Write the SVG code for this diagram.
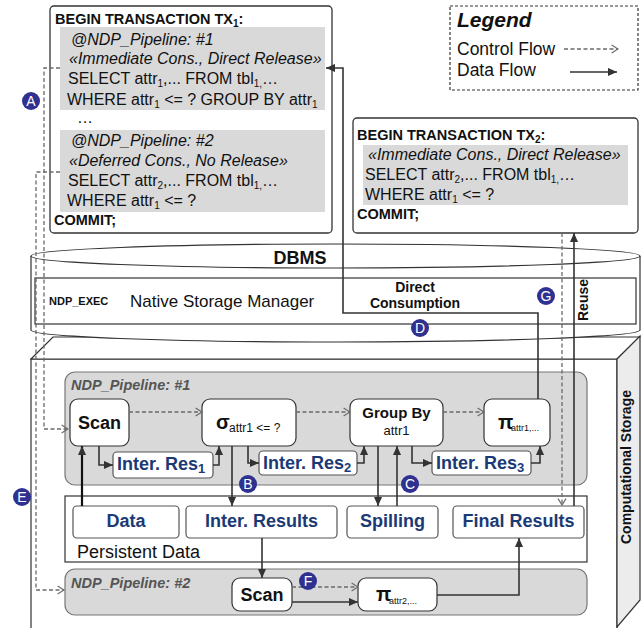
<svg xmlns="http://www.w3.org/2000/svg" width="641" height="628" viewBox="0 0 641 628">
<defs>
<style>
text{font-family:'Liberation Sans',Arial,sans-serif;fill:#111}
.b{font-weight:bold}
.i{font-style:italic}
.sql{font-size:16px}
.hd{font-size:14.5px;font-weight:bold}
.box{fill:#fff;stroke:#333;stroke-width:1.3}
.gray{fill:#d9d9d9;stroke:none}
.pipe{fill:#d9d9d9;stroke:#777;stroke-width:1.2}
.op{fill:#fff;stroke:#333;stroke-width:1.2}
.res{fill:#fff;stroke:#555;stroke-width:1.2}
.nv{fill:#1b3a75;font-weight:bold;font-size:18px}
.ctl{fill:none;stroke:#6a6a6a;stroke-width:1.3;stroke-dasharray:4 2.5;marker-end:url(#open)}
.dat{fill:none;stroke:#333;stroke-width:1.6;marker-end:url(#fill)}
.lab circle{fill:#2e318f}
.lab text{fill:#fff;font-size:14px;text-anchor:middle}
.pl{font-size:14.5px;font-weight:bold;font-style:italic;fill:#555}
.c{text-anchor:middle}
</style>
<marker id="fill" viewBox="0 0 10 10" refX="10" refY="5" markerWidth="9" markerHeight="9" markerUnits="userSpaceOnUse" orient="auto"><path d="M0,0.5 L10,5 L0,9.5 z" fill="#333"/></marker>
<marker id="open" viewBox="0 0 10 12" refX="9" refY="6" markerWidth="8" markerHeight="10" markerUnits="userSpaceOnUse" orient="auto"><path d="M1,1 L9,6 L1,11" fill="none" stroke="#6a6a6a" stroke-width="1.5"/></marker>
</defs>

<g id="legend">
<rect x="450" y="6" width="188" height="84" fill="#fff" stroke="#333" stroke-width="1.2" stroke-dasharray="3 2"/>
<text x="457" y="27" font-size="21" class="b i">Legend</text>
<text x="457" y="55" font-size="17.5">Control Flow</text>
<text x="457" y="76" font-size="17.5">Data Flow</text>
<path class="ctl" d="M564,49 H618"/>
<path class="dat" d="M570,72 H617"/>
</g>

<g id="tx1">
<rect class="box" x="50" y="6" width="282" height="227" rx="4"/>
<rect class="gray" x="60" y="27" width="265" height="83"/>
<rect class="gray" x="60" y="130" width="265" height="82"/>
<text class="hd" x="55" y="24">BEGIN TRANSACTION TX<tspan font-size="10" dy="3">1</tspan><tspan dy="-3">:</tspan></text>
<text class="sql i" x="71" y="45">@NDP_Pipeline: #1</text>
<text class="sql i" x="69" y="64">«Immediate Cons., Direct Release»</text>
<text class="sql" x="68" y="84">SELECT attr<tspan font-size="10" dy="3">1</tspan><tspan dy="-3">,... FROM tbl</tspan><tspan font-size="10" dy="3">1,</tspan><tspan dy="-3">…</tspan></text>
<text class="sql" x="67" y="105">WHERE attr<tspan font-size="10" dy="3">1</tspan><tspan dy="-3"> &lt;= ? GROUP BY attr</tspan><tspan font-size="10" dy="3">1</tspan></text>
<text class="sql" x="77" y="123">…</text>
<text class="sql i" x="71" y="146">@NDP_Pipeline: #2</text>
<text class="sql i" x="69" y="166">«Deferred Cons., No Release»</text>
<text class="sql" x="68" y="186">SELECT attr<tspan font-size="10" dy="3">2</tspan><tspan dy="-3">,... FROM tbl</tspan><tspan font-size="10" dy="3">1,</tspan><tspan dy="-3">…</tspan></text>
<text class="sql" x="67" y="206">WHERE attr<tspan font-size="10" dy="3">1</tspan><tspan dy="-3"> &lt;= ?</tspan></text>
<text class="hd" x="54" y="225">COMMIT;</text>
</g>

<g id="tx2">
<rect class="box" x="353" y="118" width="285" height="115" rx="4"/>
<rect class="gray" x="363" y="145" width="265" height="60"/>
<text class="hd" x="357" y="140">BEGIN TRANSACTION TX<tspan font-size="10" dy="3">2</tspan><tspan dy="-3">:</tspan></text>
<text class="sql i" x="368" y="160">«Immediate Cons., Direct Release»</text>
<text class="sql" x="365" y="180">SELECT attr<tspan font-size="10" dy="3">2</tspan><tspan dy="-3">,... FROM tbl</tspan><tspan font-size="10" dy="3">1,</tspan><tspan dy="-3">…</tspan></text>
<text class="sql" x="365" y="200">WHERE attr<tspan font-size="10" dy="3">1</tspan><tspan dy="-3"> &lt;= ?</tspan></text>
<text class="hd" x="357" y="219">COMMIT;</text>
</g>

<g id="storage">
<rect x="31" y="359" width="586" height="290" fill="#fff" stroke="#333" stroke-width="1.2"/>
<path d="M31,359 L53,337 H640 L617,359 Z" fill="#fff" stroke="#333" stroke-width="1.2"/>
<path d="M617,359 L640,336 V600 L617,627 Z" fill="#ececec" stroke="#333" stroke-width="1.2"/>
<text class="b c" font-size="14" x="631" y="467" transform="rotate(-90 631 467)">Computational Storage</text>
</g>

<g id="dbms">
<path d="M31,256 V330 A304.5,12 0 0 0 640,330 V256" fill="#fff" stroke="#333" stroke-width="1.2"/>
<ellipse cx="335.5" cy="256" rx="304.5" ry="12" fill="#fff" stroke="#333" stroke-width="1.2"/>
<text class="b c" font-size="18" x="300" y="264">DBMS</text>
<rect x="35" y="278" width="601" height="46" fill="none" stroke="#333" stroke-width="1.2"/>
<text class="b" font-size="11" x="49" y="305">NDP_EXEC</text>
<text font-size="17" x="130" y="307">Native Storage Manager</text>
<text class="b c" font-size="14" x="415" y="292">Direct</text>
<text class="b c" font-size="14" x="415" y="308">Consumption</text>
<text class="b c" font-size="14" x="588" y="300" transform="rotate(-90 588 300)">Reuse</text>
</g>

<g id="pipeline1">
<rect class="pipe" x="65" y="372" width="522" height="113" rx="10"/>
<text class="pl" x="71" y="390">NDP_Pipeline: #1</text>
</g>
<g id="scan1">
<rect class="op" x="70" y="399" width="59" height="47" rx="8"/>
<text class="b c" font-size="18" x="99.5" y="429">Scan</text>
</g>
<g id="select">
<rect class="op" x="202" y="399" width="94" height="47" rx="8"/>
<text class="b" font-size="20" x="216" y="429">σ</text>
<text font-size="12" x="229" y="432">attr1 &lt;= ?</text>
</g>
<g id="groupby">
<rect class="op" x="350" y="399" width="93" height="47" rx="8"/>
<text class="b c" font-size="15" x="396.5" y="418">Group By</text>
<text class="c" font-size="13" x="396.5" y="435">attr1</text>
</g>
<g id="project1">
<rect class="op" x="484" y="399" width="66" height="47" rx="8"/>
<text class="b" font-size="20" x="498" y="429">π</text>
<text font-size="9" x="511" y="431">attr1,...</text>
</g>
<g id="ires1">
<rect class="res" x="113" y="452" width="100" height="26" rx="4"/>
<text class="nv" x="117" y="470">Inter. Res<tspan font-size="13" dy="3">1</tspan></text>
</g>
<g id="ires2">
<rect class="res" x="259" y="451" width="98" height="24" rx="4"/>
<text class="nv" x="263" y="469">Inter. Res<tspan font-size="13" dy="3">2</tspan></text>
</g>
<g id="ires3">
<rect class="res" x="432" y="451" width="99" height="24" rx="4"/>
<text class="nv" x="436" y="469">Inter. Res<tspan font-size="13" dy="3">3</tspan></text>
</g>

<g id="persistent">
<rect x="65" y="496" width="522" height="66" fill="#fff" stroke="#333" stroke-width="1.2"/>
<text font-size="18" x="77" y="558">Persistent Data</text>
</g>
<g id="data">
<rect class="res" x="73" y="506" width="106" height="32" rx="4"/>
<text class="nv c" x="126" y="527">Data</text>
</g>
<g id="interresults">
<rect class="res" x="186" y="506" width="151" height="32" rx="4"/>
<text class="nv c" x="261.5" y="527">Inter. Results</text>
</g>
<g id="spilling">
<rect class="res" x="347" y="506" width="91" height="32" rx="4"/>
<text class="nv c" x="392.5" y="527">Spilling</text>
</g>
<g id="finalresults">
<rect class="res" x="453" y="506" width="131" height="32" rx="4"/>
<text class="nv c" x="518.5" y="527">Final Results</text>
</g>

<g id="pipeline2">
<rect class="pipe" x="65" y="569" width="522" height="46" rx="10"/>
<text class="pl" x="71" y="588">NDP_Pipeline: #2</text>
</g>
<g id="scan2">
<rect class="op" x="232" y="578" width="60" height="33" rx="8"/>
<text class="b c" font-size="18" x="262" y="601">Scan</text>
</g>
<g id="project2">
<rect class="op" x="358" y="578" width="79" height="33" rx="8"/>
<text class="b" font-size="20" x="376" y="601">π</text>
<text font-size="9" x="389" y="604">attr2,...</text>
</g>

<g id="connectors">
<path class="ctl" d="M60,68 H44 V429 H68"/>
<path class="ctl" d="M60,172 H36 V590 H64"/>
<path class="ctl" d="M129,412 H202"/>
<path class="ctl" d="M296,412 H350"/>
<path class="ctl" d="M443,412 H484"/>
<path class="ctl" d="M562,233 V505"/>
<path class="ctl" d="M292,587 H358"/>
<path class="dat" d="M99,446 V465 H113"/>
<path class="dat" d="M213,465 H219 V446"/>
<path class="dat" d="M232,446 V506"/>
<path class="dat" d="M248,446 V463 H259"/>
<path class="dat" d="M357,463 H364 V446"/>
<path class="dat" d="M378,446 V506"/>
<path class="dat" d="M397,506 V446"/>
<path class="dat" d="M412,446 V463 H432"/>
<path class="dat" d="M531,463 H540 V446"/>
<path class="dat" d="M538,399 V313 H343 V68 H326"/>
<path class="dat" d="M574,506 V233"/>
<path class="dat" style="stroke-width:2.2;stroke:#111" d="M82,506 V446"/>
<path class="dat" d="M262,538 V578"/>
<path class="dat" d="M292,602 H358"/>
<path class="dat" d="M437,595 H519 V538"/>
</g>

<g id="labels" class="lab">
<g id="lA"><circle cx="31" cy="101" r="9"/><text x="31" y="106">A</text></g>
<g id="lB"><circle cx="248" cy="484" r="9"/><text x="248" y="489">B</text></g>
<g id="lC"><circle cx="410" cy="484" r="9"/><text x="410" y="489">C</text></g>
<g id="lD"><circle cx="420" cy="328" r="9"/><text x="420" y="333">D</text></g>
<g id="lE"><circle cx="22" cy="497" r="9"/><text x="22" y="502">E</text></g>
<g id="lF"><circle cx="308" cy="581" r="9"/><text x="308" y="586">F</text></g>
<g id="lG"><circle cx="546" cy="296" r="9"/><text x="546" y="301">G</text></g>
</g>
</svg>
